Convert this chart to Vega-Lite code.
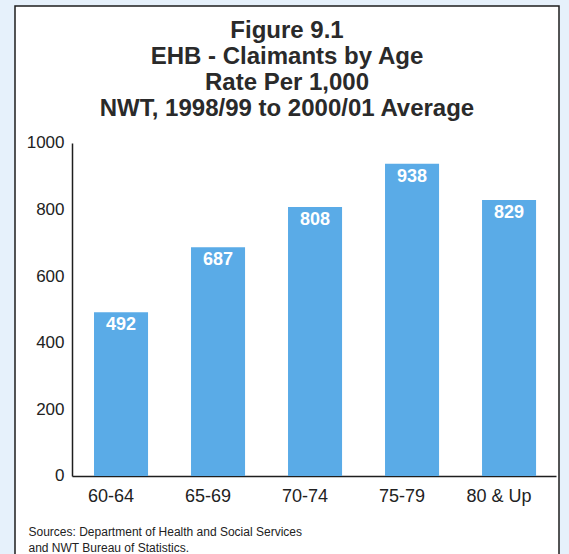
{
  "$schema": "https://vega.github.io/schema/vega-lite/v6.json",
  "width": 544,
  "height": 552,
  "autosize": {"type": "none"},
  "padding": {"left": 15, "top": 6, "right": 10, "bottom": 0},
  "background": "#e6f1fb",
  "config": {
    "view": {"fill": "white", "stroke": "#1e1e1e", "strokeWidth": 1.5},
    "font": "Liberation Sans"
  },
  "title": {
    "text": ["Figure 9.1", "EHB - Claimants by Age", "Rate Per 1,000", "NWT, 1998/99 to 2000/01 Average"],
    "fontSize": 24,
    "fontWeight": "bold",
    "font": "Liberation Sans",
    "color": "#2a2a2a",
    "lineHeight": 26,
    "anchor": "middle",
    "frame": "group",
    "offset": -115
  },
  "data": {
    "values": [
      {"age": "60-64", "rate": 492},
      {"age": "65-69", "rate": 687},
      {"age": "70-74", "rate": 808},
      {"age": "75-79", "rate": 938},
      {"age": "80 & Up", "rate": 829}
    ]
  },
  "encoding": {
    "x": {
      "field": "age",
      "type": "nominal",
      "sort": null,
      "scale": {"paddingInner": 0.443, "paddingOuter": 0.5255, "align": 0.775},
      "axis": {
        "orient": "bottom",
        "offset": -82,
        "labelAngle": 0,
        "labelFontSize": 18,
        "labelColor": "#222",
        "labelPadding": 11,
        "labelOffset": -10,
        "ticks": false,
        "tickSize": 0,
        "domainColor": "#1e1e1e",
        "domainWidth": 1.5,
        "domainDash": [0, 57, 484, 2000],
        "title": ["Sources: Department of Health and Social Services", "and NWT Bureau of Statistics."],
        "titleFontSize": 12,
        "titleFontWeight": "normal",
        "titleColor": "#222",
        "titleAlign": "left",
        "titleAnchor": "start",
        "titleBaseline": "alphabetic",
        "titleLineHeight": 16.5,
        "titleX": 13,
        "titleY": 59
      }
    },
    "y": {
      "field": "rate",
      "type": "quantitative",
      "scale": {"domain": [-246.3, 1411.4], "nice": false, "zero": false},
      "axis": {
        "orient": "left",
        "offset": -57,
        "values": [0, 200, 400, 600, 800, 1000],
        "format": "d",
        "labelFontSize": 17,
        "labelColor": "#222",
        "labelPadding": 8,
        "ticks": false,
        "tickSize": 0,
        "grid": false,
        "domainColor": "#1e1e1e",
        "domainWidth": 1.5,
        "domainDash": [0, 82, 333, 2000],
        "title": null
      }
    }
  },
  "layer": [
    {
      "mark": {"type": "bar", "color": "#5aabe7"},
      "encoding": {"y2": {"datum": 0}}
    },
    {
      "mark": {
        "type": "text",
        "color": "white",
        "fontSize": 18,
        "fontWeight": "bold",
        "baseline": "alphabetic",
        "dy": 18
      },
      "encoding": {"text": {"field": "rate", "type": "quantitative"}}
    }
  ]
}
